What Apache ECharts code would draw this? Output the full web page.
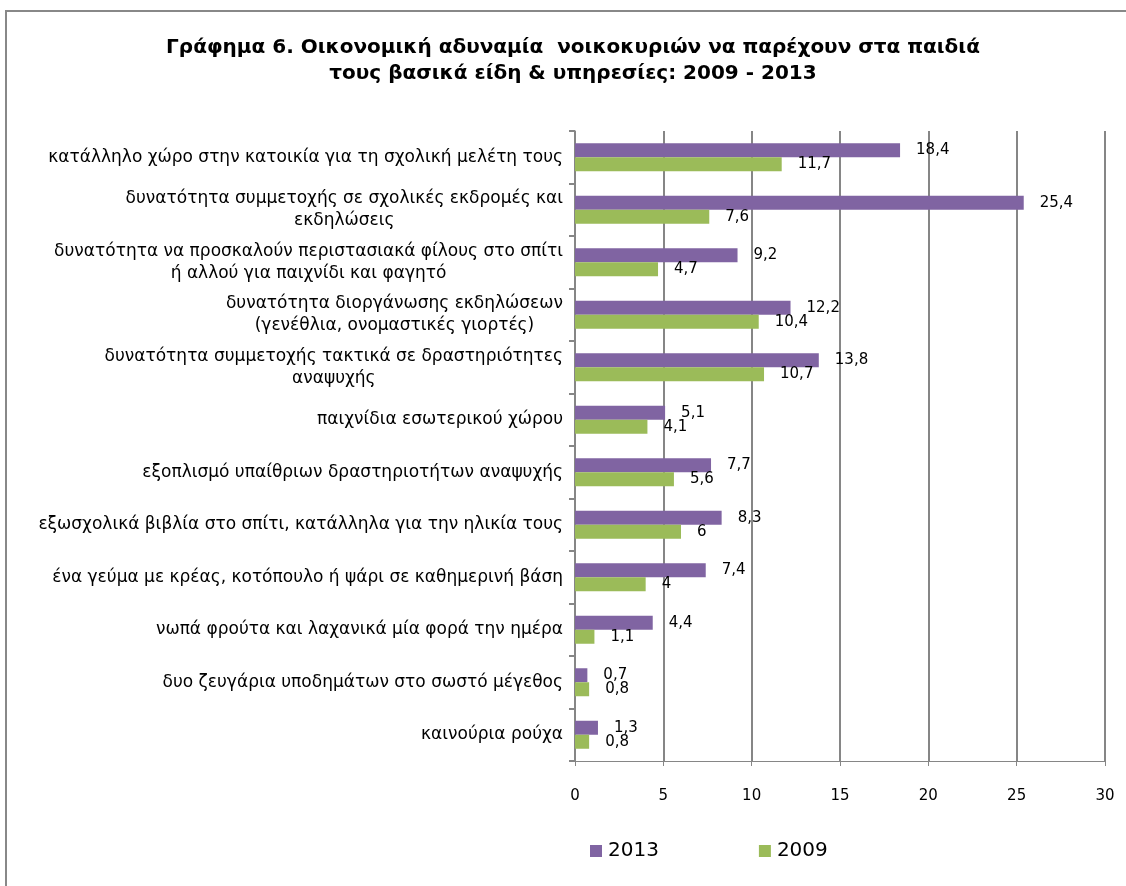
<!DOCTYPE html>
<html>
<head>
<meta charset="utf-8">
<script src="https://cdn.jsdelivr.net/npm/echarts@6/dist/echarts.min.js"></script>
<style>
  html, body { margin: 0; padding: 0; background: #fff; }
  #chart { width: 1126px; height: 886px; }
</style>
</head>
<body>
<div id="chart"></div>
<script>
// κατηγορίες (από πάνω προς τα κάτω)
var categories = [
  'κατάλληλο χώρο στην κατοικία για τη σχολική μελέτη τους',
  'δυνατότητα συμμετοχής σε σχολικές εκδρομές και\nεκδηλώσεις',
  'δυνατότητα να προσκαλούν περιστασιακά φίλους στο σπίτι\nή αλλού για παιχνίδι και φαγητό',
  'δυνατότητα διοργάνωσης εκδηλώσεων\n(γενέθλια, ονομαστικές γιορτές)',
  'δυνατότητα συμμετοχής τακτικά σε δραστηριότητες\nαναψυχής',
  'παιχνίδια εσωτερικού χώρου',
  'εξοπλισμό υπαίθριων δραστηριοτήτων αναψυχής',
  'εξωσχολικά βιβλία στο σπίτι, κατάλληλα για την ηλικία τους',
  'ένα γεύμα με κρέας, κοτόπουλο ή ψάρι σε καθημερινή βάση',
  'νωπά φρούτα και λαχανικά μία φορά την ημέρα',
  'δυο ζευγάρια υποδημάτων στο σωστό μέγεθος',
  'καινούρια ρούχα'
];
var values2013 = [18.4, 25.4, 9.2, 12.2, 13.8, 5.1, 7.7, 8.3, 7.4, 4.4, 0.7, 1.3];
var values2009 = [11.7, 7.6, 4.7, 10.4, 10.7, 4.1, 5.6, 6, 4, 1.1, 0.8, 0.8];
var xTicks = [0, 5, 10, 15, 20, 25, 30];

var chart = echarts.init(document.getElementById('chart'));

var FONT = 'DejaVu Sans, Verdana, sans-serif';

function fmt(p) {
  return String(p.value).replace('.', ',');
}

var option = {
  backgroundColor: '#fff',
  animation: false,
  textStyle: { fontFamily: FONT },
  title: {
    text: 'Γράφημα 6. Οικονομική αδυναμία  νοικοκυριών να παρέχουν στα παιδιά\nτους βασικά είδη & υπηρεσίες: 2009 - 2013',
    left: 568,
    top: 30,
    textAlign: 'center',
    textStyle: {
      fontSize: 20,
      fontWeight: 'bold',
      color: '#000',
      lineHeight: 26,
      fontFamily: FONT
    }
  },
  graphic: [{
    type: 'polyline',
    shape: { points: [[6, 886], [6, 11], [1126, 11]] },
    style: { stroke: '#888', lineWidth: 2, fill: null },
    silent: true
  }],
  legend: {
    left: 585,
    top: 836,
    itemWidth: 12,
    itemHeight: 12,
    itemGap: 100,
    icon: 'rect',
    textStyle: { fontSize: 20, color: '#000', fontFamily: FONT, padding: [0, 0, 0, 1] },
    data: ['2013', '2009']
  },
  grid: {
    left: 575,
    right: 21,
    top: 131,
    bottom: 125,
    containLabel: false
  },
  xAxis: {
    type: 'value',
    min: 0,
    max: 30,
    interval: 5,
    axisLine: { show: true, lineStyle: { color: '#868686', width: 1 } },
    axisTick: { show: true, length: 5, lineStyle: { color: '#868686' } },
    splitLine: { show: true, lineStyle: { color: '#868686', width: 2 } },
    axisLabel: {
      fontSize: 15,
      color: '#000',
      margin: 28,
      formatter: function (v) { return xTicks.indexOf(v) >= 0 ? String(v) : ''; }
    }
  },
  yAxis: {
    type: 'category',
    inverse: true,
    data: categories,
    axisLine: { show: true, lineStyle: { color: '#868686', width: 1 } },
    axisTick: { show: true, length: 6, lineStyle: { color: '#868686', width: 2 } },
    axisLabel: {
      margin: 12,
      color: '#000',
      fontSize: 17,
      formatter: function (v) {
        return v.split('\n').map(function (s) { return '{c|' + s + '}'; }).join('\n');
      },
      rich: {
        c: { align: 'center', fontSize: 17, lineHeight: 22, color: '#000', fontFamily: FONT }
      }
    }
  },
  series: [
    {
      name: '2013',
      type: 'bar',
      data: values2013,
      barWidth: 14,
      barGap: '0%',
      itemStyle: { color: '#8064A2' },
      label: {
        show: true,
        position: 'right',
        distance: 16,
        fontSize: 15,
        color: '#000',
        formatter: fmt
      }
    },
    {
      name: '2009',
      type: 'bar',
      data: values2009,
      barWidth: 14,
      barGap: '0%',
      itemStyle: { color: '#9BBB59' },
      label: {
        show: true,
        position: 'right',
        distance: 16,
        fontSize: 15,
        color: '#000',
        formatter: fmt
      }
    }
  ]
};

chart.setOption(option);
</script>
</body>
</html>
